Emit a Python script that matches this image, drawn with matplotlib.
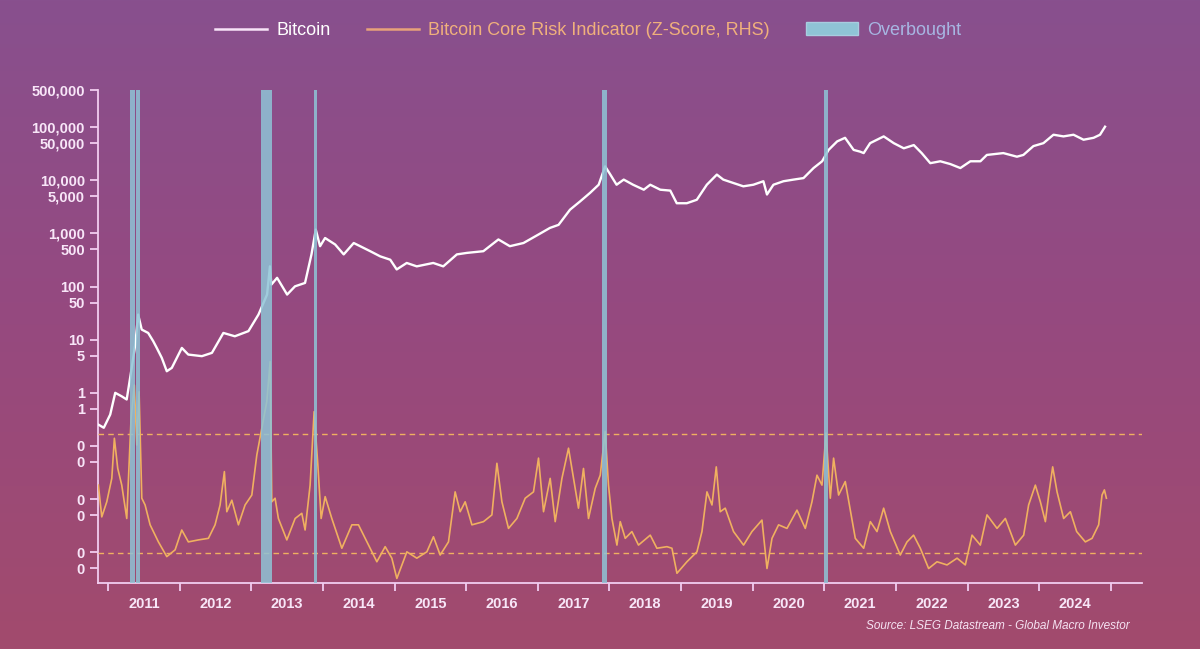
import numpy as np
import matplotlib.pyplot as plt
from matplotlib.lines import Line2D
from matplotlib.patches import Patch
from matplotlib.colors import LinearSegmentedColormap
from matplotlib.ticker import NullLocator

# Bitcoin price (USD, log scale)
btc_year = [2010.87, 2010.94, 2011.03, 2011.10, 2011.19, 2011.26, 2011.33, 2011.38, 2011.42,
            2011.47, 2011.56, 2011.63, 2011.68, 2011.75, 2011.82, 2011.89, 2012.03, 2012.12,
            2012.31, 2012.45, 2012.61, 2012.77, 2012.96, 2013.10, 2013.22, 2013.26, 2013.28,
            2013.36, 2013.50, 2013.61, 2013.75, 2013.84, 2013.90, 2013.96, 2014.03, 2014.17,
            2014.29, 2014.43, 2014.66, 2014.80, 2014.94, 2015.03, 2015.17, 2015.31, 2015.54,
            2015.68, 2015.87, 2016.01, 2016.24, 2016.45, 2016.61, 2016.80, 2017.01, 2017.17,
            2017.29, 2017.45, 2017.59, 2017.73, 2017.85, 2017.94, 2018.01, 2018.10, 2018.20,
            2018.33, 2018.48, 2018.57, 2018.71, 2018.85, 2018.94, 2019.08, 2019.22, 2019.36,
            2019.50, 2019.59, 2019.73, 2019.87, 2020.01, 2020.15, 2020.20, 2020.29, 2020.43,
            2020.57, 2020.71, 2020.85, 2020.97, 2021.06, 2021.18, 2021.29, 2021.41, 2021.50,
            2021.55, 2021.64, 2021.83, 2021.97, 2022.11, 2022.25, 2022.36, 2022.48, 2022.62,
            2022.76, 2022.90, 2023.04, 2023.18, 2023.27, 2023.50, 2023.69, 2023.78, 2023.92,
            2024.06, 2024.20, 2024.34, 2024.48, 2024.62, 2024.76, 2024.85, 2024.92]
btc_price = [0.25, 0.22, 0.39, 1.0, 0.86, 0.75, 2.95, 8.1, 29.7,
             15.5, 13.4, 9.4, 7.0, 4.55, 2.55, 2.95, 7.0, 5.25,
             4.9, 5.65, 13.4, 11.6, 14.5, 29.7, 70.7, 240, 109,
             146, 70.7, 101, 117, 403, 1180, 575, 820, 620,
             403, 660, 463, 370, 320, 210, 278, 240, 278,
             240, 403, 430, 463, 770, 575, 660, 955, 1270,
             1450, 2800, 4000, 5800, 8250, 18300, 13000, 8250, 10300,
             8250, 6650, 8250, 6650, 6400, 3700, 3700, 4300, 8250,
             12800, 10300, 8900, 7700, 8250, 9600, 5400, 8250, 9600,
             10300, 11000, 17000, 22800, 37300, 54000, 63000, 37300, 34600,
             32500, 50000, 67000, 50000, 40000, 46000, 32500, 21000, 22800,
             20200, 17000, 22800, 22800, 30000, 32500, 27800, 30000, 44000,
             50000, 72000, 67000, 72000, 58000, 63000, 72000, 102000]

# Bitcoin Core Risk Indicator (z-score, right-hand scale, hidden)
risk_year = [2010.865, 2010.912, 2010.982, 2011.052, 2011.088, 2011.135, 2011.191, 2011.261,
             2011.321, 2011.367, 2011.401, 2011.433, 2011.471, 2011.517, 2011.587, 2011.703,
             2011.820, 2011.936, 2012.029, 2012.121, 2012.261, 2012.401, 2012.494, 2012.564,
             2012.624, 2012.658, 2012.728, 2012.820, 2012.913, 2013.007, 2013.077, 2013.147,
             2013.216, 2013.263, 2013.286, 2013.332, 2013.378, 2013.496, 2013.612, 2013.705,
             2013.751, 2013.821, 2013.877, 2013.929, 2013.975, 2014.031, 2014.124, 2014.264,
             2014.404, 2014.496, 2014.636, 2014.753, 2014.869, 2014.962, 2015.032, 2015.172,
             2015.311, 2015.451, 2015.543, 2015.637, 2015.753, 2015.846, 2015.916, 2015.986,
             2016.080, 2016.242, 2016.359, 2016.429, 2016.499, 2016.591, 2016.708, 2016.824,
             2016.940, 2017.010, 2017.080, 2017.173, 2017.243, 2017.337, 2017.429, 2017.499,
             2017.568, 2017.638, 2017.708, 2017.802, 2017.872, 2017.941, 2017.987, 2018.035,
             2018.105, 2018.151, 2018.221, 2018.314, 2018.406, 2018.570, 2018.663, 2018.803,
             2018.873, 2018.943, 2019.082, 2019.222, 2019.292, 2019.362, 2019.432, 2019.492,
             2019.547, 2019.617, 2019.733, 2019.873, 2019.990, 2020.130, 2020.200, 2020.270,
             2020.362, 2020.479, 2020.619, 2020.735, 2020.828, 2020.898, 2020.968, 2021.024,
             2021.084, 2021.130, 2021.200, 2021.293, 2021.363, 2021.433, 2021.550, 2021.643,
             2021.736, 2021.829, 2021.922, 2022.061, 2022.155, 2022.247, 2022.341, 2022.457,
             2022.574, 2022.714, 2022.854, 2022.969, 2023.063, 2023.179, 2023.272, 2023.412,
             2023.528, 2023.668, 2023.784, 2023.853, 2023.947, 2024.017, 2024.087, 2024.133,
             2024.189, 2024.250, 2024.342, 2024.436, 2024.524, 2024.645, 2024.739, 2024.831,
             2024.878, 2024.911, 2024.939]
risk_z = [0.71, -0.09, 0.29, 0.88, 1.89, 1.13, 0.71, -0.13,
          2.39, 3.23, 1.72, 3.06, 0.38, 0.21, -0.29, -0.72,
          -1.09, -0.92, -0.42, -0.72, -0.67, -0.63, -0.29, 0.21,
          1.05, 0.04, 0.33, -0.29, 0.21, 0.46, 1.47, 2.14,
          2.81, 3.82, 0.29, 0.38, -0.13, -0.67, -0.13, 0.0,
          -0.42, 0.71, 2.56, 1.22, -0.13, 0.42, -0.13, -0.88,
          -0.29, -0.29, -0.80, -1.22, -0.84, -1.13, -1.64, -0.97,
          -1.13, -0.97, -0.59, -1.05, -0.72, 0.54, 0.04, 0.29,
          -0.29, -0.21, -0.04, 1.26, 0.29, -0.38, -0.13, 0.38,
          0.54, 1.39, 0.04, 0.88, -0.21, 0.88, 1.64, 0.88,
          0.13, 1.13, -0.13, 0.63, 0.96, 2.06, 0.71, -0.13,
          -0.80, -0.21, -0.63, -0.46, -0.80, -0.55, -0.88, -0.84,
          -0.88, -1.51, -1.22, -0.97, -0.46, 0.54, 0.21, 1.17,
          0.04, 0.13, -0.46, -0.80, -0.46, -0.17, -1.39, -0.63,
          -0.29, -0.38, 0.08, -0.38, 0.29, 0.96, 0.71, 2.02,
          0.38, 1.39, 0.46, 0.80, 0.08, -0.63, -0.88, -0.21,
          -0.46, 0.13, -0.46, -1.05, -0.72, -0.55, -0.88, -1.39,
          -1.22, -1.30, -1.13, -1.30, -0.55, -0.80, -0.04, -0.38,
          -0.13, -0.80, -0.55, 0.21, 0.71, 0.29, -0.21, 0.46,
          1.17, 0.54, -0.13, 0.04, -0.46, -0.72, -0.63, -0.29,
          0.46, 0.59, 0.38]

upper_level = 2.0
lower_level = -1.0

# overbought periods
band_start = [2011.307, 2011.384, 2013.133, 2013.870, 2017.899, 2021.000]
band_end = [2011.370, 2011.447, 2013.286, 2013.919, 2017.969, 2021.056]

year_labels = list(range(2011, 2025))
price_ticks = [500000, 100000, 50000, 10000, 5000, 1000, 500, 100, 50, 10, 5, 1, 0.5,
               0.1, 0.05, 0.01, 0.005, 0.001, 0.0005]
price_tick_labels = ['500,000', '100,000', '50,000', '10,000', '5,000', '1,000', '500',
                     '100', '50', '10', '5', '1', '1', '0', '0', '0', '0', '0', '0']

pink = '#f2cdf0'
txt = '#f8e6f8'
orange = '#f0b060'
blue = '#8fc4d6'

plt.rcParams['font.family'] = ['Liberation Sans', 'DejaVu Sans']

fig = plt.figure(figsize=(12, 6.49), dpi=100)

# gradient background
bg = fig.add_axes([0, 0, 1, 1], zorder=-10)
grad = np.linspace(0, 1, 256).reshape(-1, 1)
cmap = LinearSegmentedColormap.from_list('bg', ['#88508e', '#96497f', '#a24b6d'])
bg.imshow(grad, aspect='auto', cmap=cmap, extent=[0, 1, 0, 1], origin='upper')
bg.axis('off')

ax = fig.add_axes([0.0817, 0.1012, 0.8696, 0.7601])
ax.set_facecolor('none')
ax.set_yscale('log')
ax.plot(btc_year, btc_price, color='white', lw=1.7, zorder=3)
ax.set_ylim(0.00026, 500000)
ax.set_xlim(2010.86, 2025.43)

ax.set_yticks(price_ticks)
ax.set_yticklabels(price_tick_labels)
ax.yaxis.set_minor_locator(NullLocator())

ax.set_xticks(range(2011, 2026))
ax.set_xticklabels([])
ax.set_xticks([y + 0.5 for y in year_labels], minor=True)
ax.set_xticklabels([str(y) for y in year_labels], minor=True)
ax.tick_params(axis='x', which='minor', length=0, pad=10)
ax.tick_params(which='major', length=6, width=1.3, color=pink)
ax.tick_params(which='both', labelcolor=txt, labelsize=10.5)
for lab in ax.get_xticklabels(minor=True) + ax.get_yticklabels():
    lab.set_fontweight('bold')

for s in ['top', 'right']:
    ax.spines[s].set_visible(False)
for s in ['left', 'bottom']:
    ax.spines[s].set_color(pink)
    ax.spines[s].set_linewidth(1.3)

ax2 = ax.twinx()
ax2.plot(risk_year, risk_z, color=orange, lw=1.2, zorder=3)
ax2.axhline(upper_level, color=orange, lw=1.0, ls=(0, (4, 3)))
ax2.axhline(lower_level, color=orange, lw=1.0, ls=(0, (4, 3)))
ax2.set_ylim(-1.763, 10.66)
ax2.set_yticks([])
for s in ax2.spines.values():
    s.set_visible(False)

for s, e in zip(band_start, band_end):
    ax2.axvspan(s, e, color=blue, alpha=0.85, lw=0, zorder=5)

handles = [Line2D([], [], color='#f8e4f8', lw=1.8),
           Line2D([], [], color='#e8a27a', lw=1.8),
           Patch(facecolor=blue, edgecolor='#a8cde0')]
leg = fig.legend(handles, ['Bitcoin', 'Bitcoin Core Risk Indicator (Z-Score, RHS)', 'Overbought'],
                 loc='center', bbox_to_anchor=(0.49, 0.953), ncol=3, frameon=False,
                 fontsize=13, handlelength=2.9, handletextpad=0.5, columnspacing=2.0,
                 labelcolor=['#ffffff', '#f0b07c', '#a7b6e2'])

fig.text(0.941, 0.035, 'Source: LSEG Datastream - Global Macro Investor', ha='right',
         va='center', fontsize=8.5, style='italic', color='#f5e2f2')

plt.savefig('out.png', dpi=100)
